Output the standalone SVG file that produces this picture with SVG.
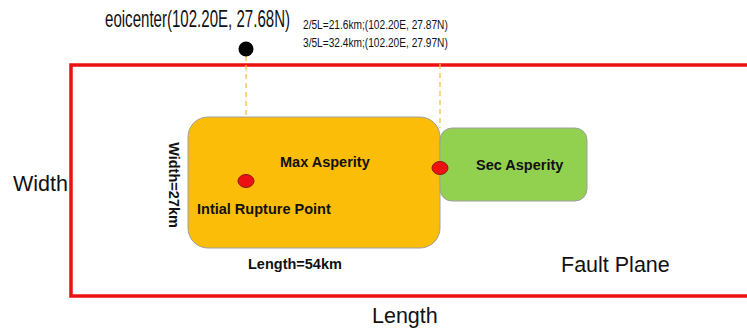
<svg xmlns="http://www.w3.org/2000/svg" width="747" height="334" viewBox="0 0 747 334">
<style>
.lbl{font-family:"Liberation Sans",Arial,sans-serif;fill:#111}
.b{font-weight:bold;font-size:14.5px}
.big{font-size:21.5px}
.sm{font-size:13.5px}
.dash{stroke:#f5c242;stroke-width:1.3;stroke-dasharray:5,4;fill:none}
.pt{fill:#ee1111;stroke:#8a1a1a;stroke-width:1}
</style>
<rect width="747" height="334" fill="#fff"/>
<g id="fault-plane">
<rect x="71" y="65" width="690" height="231" fill="none" stroke="#ee1111" stroke-width="3.5"/>
<text class="lbl big" x="561" y="272">Fault Plane</text>
<text class="lbl big" x="13" y="191">Width</text>
<text class="lbl big" x="372" y="323">Length</text>
</g>
<g id="connectors">
<line class="dash" x1="246" y1="56" x2="246" y2="117"/>
<line class="dash" x1="440" y1="64" x2="440" y2="128"/>
</g>
<g id="max-asperity">
<rect x="188" y="117" width="252" height="131" rx="20" fill="#fbbd08" stroke="#a0a0a0" stroke-width="1"/>
<text class="lbl b" x="280" y="167">Max Asperity</text>
<text class="lbl b" x="197" y="214">Intial Rupture Point</text>
<text class="lbl b" x="248" y="269">Length=54km</text>
<text class="lbl b" transform="translate(169,185) rotate(90)" text-anchor="middle">Width=27km</text>
</g>
<g id="sec-asperity">
<rect x="440" y="128" width="147" height="73" rx="12" fill="#92d050" stroke="#a0a0a0" stroke-width="1"/>
<text class="lbl b" x="476" y="170">Sec Asperity</text>
</g>
<g id="epicenter">
<circle cx="246" cy="49" r="7.5" fill="#000"/>
<text class="lbl" transform="translate(105,27) scale(0.655,1)" font-size="23">eoicenter(102.20E, 27.68N)</text>
<text class="lbl sm" transform="translate(303,29) scale(0.753,1)">2/5L=21.6km;(102.20E, 27.87N)</text>
<text class="lbl sm" transform="translate(303,47) scale(0.753,1)">3/5L=32.4km;(102.20E, 27.97N)</text>
</g>
<g id="rupture-points">
<ellipse class="pt" cx="246" cy="181" rx="8" ry="6.5"/>
<ellipse class="pt" cx="440" cy="168" rx="8" ry="6.5"/>
</g>
</svg>
